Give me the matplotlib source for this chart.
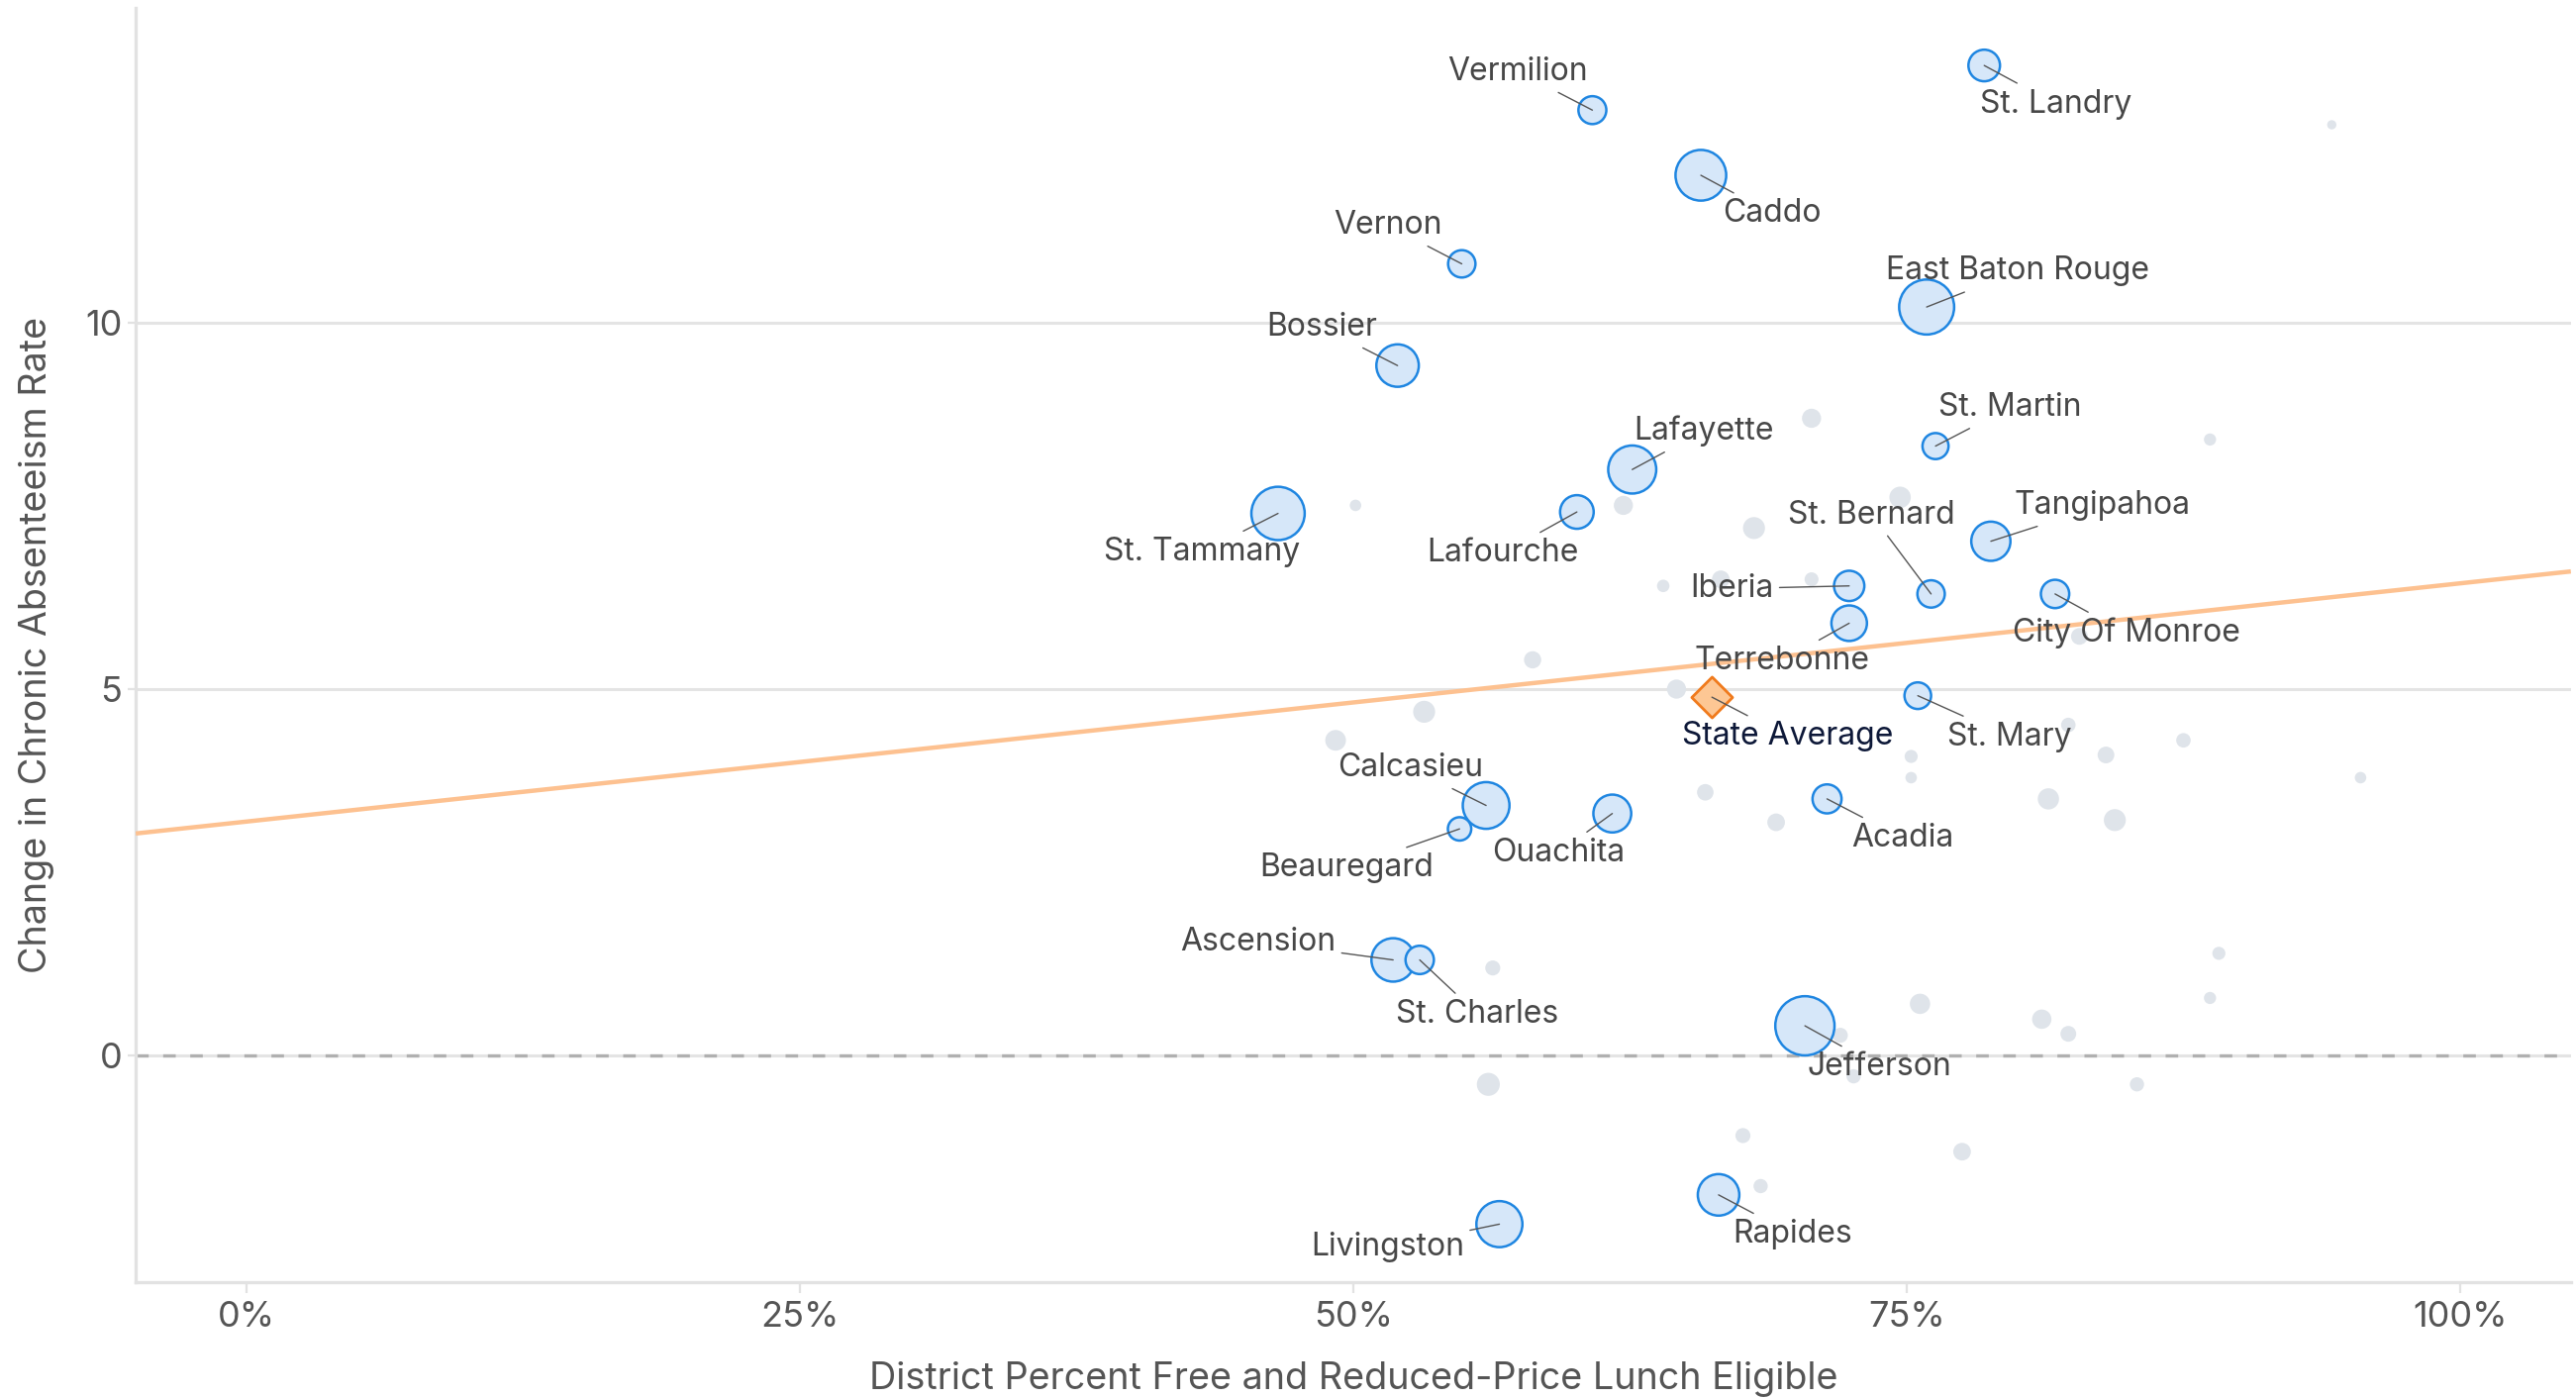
import matplotlib
matplotlib.use("Agg")
import matplotlib.pyplot as plt
import numpy as np
from matplotlib.ticker import PercentFormatter, MultipleLocator

plt.rcParams["font.family"] = ["Inter", "DejaVu Sans"]

# ---------------------------------------------------------------------------
# Data (x = share of students FRL eligible, y = change in chronic absenteeism,
# enrollment in thousands drives bubble size)
# ---------------------------------------------------------------------------
named_districts = [
    "St. Landry", "Vermilion", "Caddo", "Vernon", "East Baton Rouge",
    "Bossier", "St. Martin", "Lafayette", "St. Tammany", "Lafourche",
    "Tangipahoa", "Iberia", "St. Bernard", "City Of Monroe", "Terrebonne",
    "St. Mary", "Calcasieu", "Beauregard", "Ouachita", "Acadia",
    "Ascension", "St. Charles", "Jefferson", "Rapides", "Livingston",
]
named_frl = [
    0.785, 0.608, 0.657, 0.549, 0.759,
    0.520, 0.763, 0.626, 0.466, 0.601,
    0.788, 0.724, 0.761, 0.817, 0.724,
    0.755, 0.560, 0.548, 0.617, 0.714,
    0.518, 0.530, 0.704, 0.665, 0.566,
]
named_change = [
    13.52, 12.91, 12.02, 10.81, 10.22,
    9.42, 8.32, 8.00, 7.40, 7.42,
    7.02, 6.41, 6.30, 6.30, 5.90,
    4.91, 3.41, 3.09, 3.30, 3.50,
    1.30, 1.30, 0.40, -1.91, -2.31,
]
named_enroll = [
    12.8, 10.0, 33.0, 9.6, 38.8,
    23.1, 8.7, 29.6, 36.5, 14.5,
    19.7, 11.8, 9.6, 10.3, 16.2,
    9.1, 28.0, 7.0, 18.4, 10.8,
    24.2, 10.3, 45.0, 22.1, 27.2,
]

other_frl = [
    0.942, 0.887, 0.707, 0.501, 0.622, 0.681, 0.747, 0.640, 0.666, 0.707,
    0.581, 0.646, 0.532, 0.492, 0.752, 0.752, 0.823, 0.840, 0.875, 0.955,
    0.814, 0.844, 0.659, 0.691, 0.563, 0.891, 0.887, 0.756, 0.811, 0.823,
    0.720, 0.726, 0.561, 0.854, 0.676, 0.775, 0.684, 0.828,
]
other_change = [
    12.71, 8.41, 8.70, 7.51, 7.51, 7.20, 7.62, 6.41, 6.50, 6.50,
    5.40, 5.00, 4.69, 4.30, 4.08, 3.79, 4.51, 4.10, 4.30, 3.79,
    3.50, 3.21, 3.59, 3.18, 1.19, 1.39, 0.78, 0.70, 0.49, 0.29,
    0.27, -0.29, -0.40, -0.40, -1.10, -1.32, -1.79, 5.72,
]
other_enroll = [
    1.1, 1.9, 4.7, 1.7, 4.7, 6.2, 5.9, 2.0, 4.0, 2.5,
    3.8, 4.7, 6.2, 5.5, 2.2, 1.7, 2.7, 3.6, 2.7, 1.7,
    5.8, 6.2, 3.5, 4.0, 2.9, 2.2, 1.9, 5.3, 4.8, 3.2,
    2.9, 2.6, 6.8, 2.6, 2.9, 4.0, 2.6, 3.6,
]

state_avg_frl = 0.662
state_avg_change = 4.89

# linear trend across districts
trend_intercept = 3.19
trend_slope = 3.255

# label offsets in points (text centre relative to bubble)
label_offsets = {
    "St. Landry": (26, -14), "Vermilion": (-27, 14), "Caddo": (26, -14),
    "Vernon": (-27, 14), "East Baton Rouge": (33, 13), "Bossier": (-27.5, 14),
    "St. Martin": (27, 14), "Lafayette": (26, 14), "St. Tammany": (-27.5, -14),
    "Lafourche": (-27, -15), "Tangipahoa": (40.5, 13), "Iberia": (-42.5, -1),
    "St. Bernard": (-21.5, 28.7), "City Of Monroe": (26, -14.3),
    "Terrebonne": (-24.5, -13.7), "St. Mary": (33.4, -15),
    "Calcasieu": (-27.5, 13.7), "Beauregard": (-41, -14.3),
    "Ouachita": (-19.7, -14.3), "Acadia": (27.5, -14.3),
    "Ascension": (-49, 6.6), "St. Charles": (21, -19.7),
    "Jefferson": (27, -15), "Rapides": (27, -14.3), "Livingston": (-40.6, -8.4),
}
state_offset = (27.5, -14.3)

SIZE_PER_K = 10.3  # marker area (pt^2) per thousand students

BLUE_EDGE = "#1f86e1"
BLUE_FILL = "#d6e7f9"
GRAY = "#dfe4ea"
ORANGE_LINE = "#fdc190"
TEXT = "#474747"


def main():
    fig = plt.figure(figsize=(13.01, 7.06), dpi=200)
    ax = fig.add_axes([0.0527, 0.083, 0.9453, 0.911])

    ax.set_xlim(-0.05, 1.05)
    ax.set_ylim(-3.1, 14.3)

    # grid + zero reference
    ax.yaxis.set_major_locator(MultipleLocator(5))
    ax.grid(axis="y", color="#e4e4e4", lw=1.1, zorder=0)
    ax.set_axisbelow(True)
    ax.axhline(0, color="#b0b0b0", lw=1.2, linestyle=(0, (3.8, 4.4)), zorder=1)

    # other districts
    ax.scatter(other_frl, other_change,
               s=np.array(other_enroll) * SIZE_PER_K,
               color=GRAY, edgecolors="none", zorder=2)

    # trend
    xs = np.array(ax.get_xlim())
    ax.plot(xs, trend_intercept + trend_slope * xs, color=ORANGE_LINE,
            lw=1.6, zorder=3, solid_capstyle="butt")

    # named districts
    ax.scatter(named_frl, named_change,
               s=np.array(named_enroll) * SIZE_PER_K,
               facecolor=BLUE_FILL, edgecolors=BLUE_EDGE, linewidths=0.9,
               zorder=4)

    for name, x, y in zip(named_districts, named_frl, named_change):
        ax.annotate(name, xy=(x, y), xytext=label_offsets[name],
                    textcoords="offset points", ha="center", va="center",
                    fontsize=11.5, color=TEXT, zorder=6,
                    arrowprops=dict(arrowstyle="-", color="#555555", lw=0.5,
                                    shrinkA=0, shrinkB=0))

    # state average
    ax.scatter([state_avg_frl], [state_avg_change], marker="D", s=110,
               facecolor="#fdc794", edgecolors="#f07a1c", linewidths=1.0,
               zorder=5)
    ax.annotate("State Average", xy=(state_avg_frl, state_avg_change),
                xytext=state_offset, textcoords="offset points",
                ha="center", va="center", fontsize=11.5, color="#0d1838",
                zorder=6,
                arrowprops=dict(arrowstyle="-", color="#555555", lw=0.5,
                                shrinkA=0, shrinkB=0))

    # axes styling
    ax.xaxis.set_major_locator(MultipleLocator(0.25))
    ax.xaxis.set_major_formatter(PercentFormatter(xmax=1, decimals=0))
    for side in ("top", "right"):
        ax.spines[side].set_visible(False)
    for side in ("left", "bottom"):
        ax.spines[side].set_color("#e2e2e2")
        ax.spines[side].set_linewidth(1.2)
    ax.tick_params(axis="both", colors="#e2e2e2", labelcolor="#555555",
                   labelsize=13, width=0.8)
    ax.tick_params(axis="x", length=4, pad=3)
    ax.tick_params(axis="y", length=3, pad=2)

    ax.set_xlabel("District Percent Free and Reduced-Price Lunch Eligible",
                  fontsize=13.6, color="#555555", labelpad=10)
    ax.set_ylabel("Change in Chronic Absenteeism Rate", fontsize=13.6,
                  color="#555555", labelpad=11)

    fig.savefig("out.png", dpi=200, facecolor="white")


if __name__ == "__main__":
    main()
